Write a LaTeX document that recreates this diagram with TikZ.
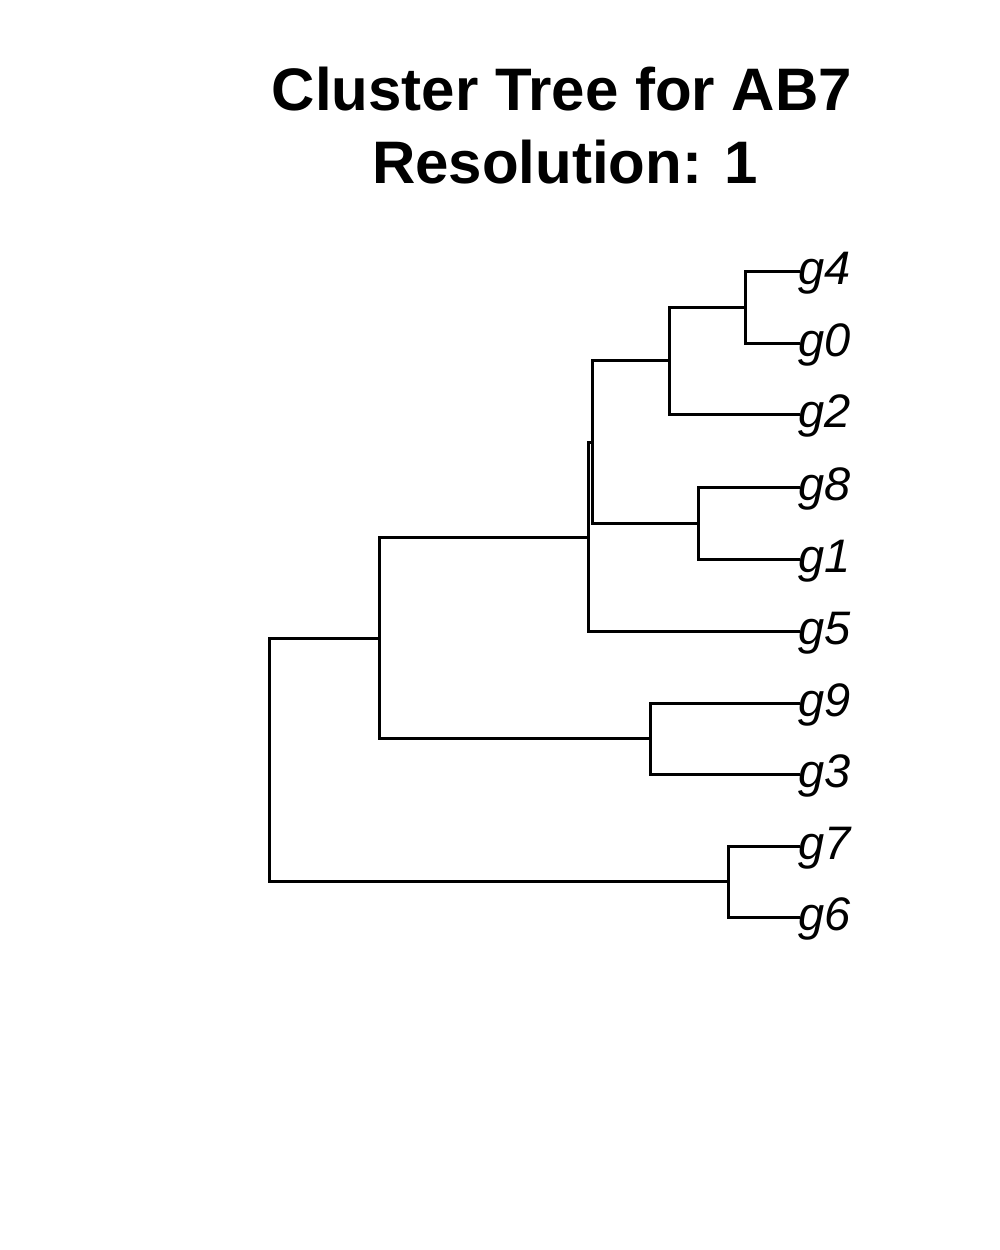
\documentclass[tikz,border=0pt]{standalone}
\usepackage{fontspec}
\setmainfont{Liberation Sans}
\begin{document}
\begin{tikzpicture}[x=0.5pt,y=-0.5pt,
  branch/.style={draw=black,line width=1.5pt,line join=miter},
  leaflab/.style={anchor=base west,inner sep=0pt,font=\fontsize{23.5}{28}\selectfont\itshape},
  titlelab/.style={anchor=base,inner sep=0pt,font=\fontsize{30}{36}\selectfont\bfseries}]
\useasboundingbox[fill=white] (0,0) rectangle (1000,1250);
% title
\node[titlelab] (t1) at (562,110) {Cluster Tree for AB7};
\node[titlelab] (t2) at (565,183) {Resolution: 1};
% leaf tips
\foreach \n/\y in {4/271,0/343,2/414,8/487,1/559,5/631,9/703,3/774,7/846,6/917}{
  \coordinate (l\n) at (800,\y);
  \node[leaflab] (g\n) at (798,\y+13) {g\n};
}
% internal nodes
\coordinate (a) at (745,307);
\coordinate (b) at (669,360.5);
\coordinate (c) at (698,523);
\coordinate (d) at (592,442);
\coordinate (e) at (588,537);
\coordinate (f) at (650,738.5);
\coordinate (h) at (379,638);
\coordinate (k) at (728,881.5);
\coordinate (r) at (269,760);
% branches
\draw[branch] (l4) -| (a) |- (l0);
\draw[branch] (a) -| (b) |- (l2);
\draw[branch] (l8) -| (c) |- (l1);
\draw[branch] (b) -| (d) |- (c);
\draw[branch] (d) -| (e) |- (l5);
\draw[branch] (l9) -| (f) |- (l3);
\draw[branch] (e) -| (h) |- (f);
\draw[branch] (l7) -| (k) |- (l6);
\draw[branch] (h) -| (r) |- (k);
\end{tikzpicture}
\end{document}
